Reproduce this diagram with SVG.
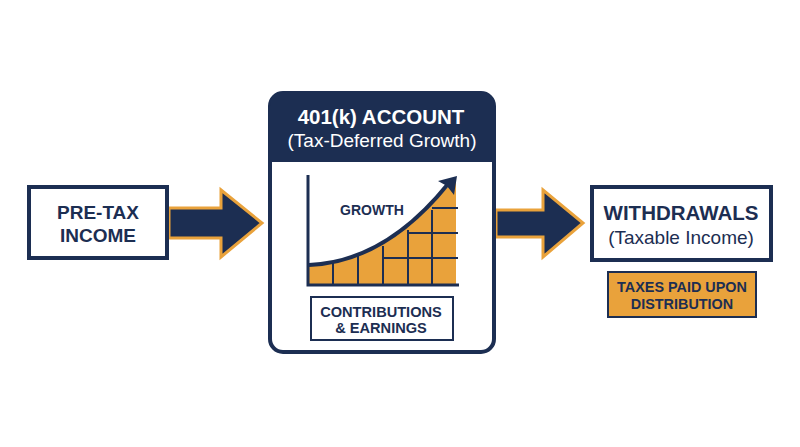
<svg xmlns="http://www.w3.org/2000/svg" width="800" height="447" viewBox="0 0 800 447">
<defs>
<style>
.navy{fill:#1c2e52}
.box{fill:#fff;stroke:#1c2e52;stroke-width:4}
.arrow{fill:#1c2e52;stroke:#e9a23b;stroke-width:3;stroke-linejoin:miter}
.b{font-family:"Liberation Sans",Arial,sans-serif;font-weight:bold;fill:#1c2e52;text-anchor:middle}
.r{font-family:"Liberation Sans",Arial,sans-serif;fill:#1c2e52;text-anchor:middle}
.grid{stroke:#1c2e52;stroke-width:2;fill:none}
</style>
</defs>
<rect width="800" height="447" fill="#fff"/>
<g id="connectors">
<path class="arrow" d="M169,208 H221 V190 L262,223 L221,257 V238 H169 Z"/>
<path class="arrow" d="M496,210 H543 V190 L583,223 L543,257 V237 H496 Z"/>
</g>
<g id="pretax">
<rect class="box" x="29" y="187" width="138" height="71"/>
<text class="b" x="98" y="219" font-size="19">PRE-TAX</text>
<text class="b" x="98" y="242" font-size="19">INCOME</text>
</g>
<g id="account">
<rect x="270" y="93" width="224" height="259" rx="13" fill="#fff" stroke="#1c2e52" stroke-width="4"/>
<path class="navy" d="M270,162 V106 Q270,93 283,93 H481 Q494,93 494,106 V162 Z"/>
<text x="381" y="124" font-size="20.5" font-family="Liberation Sans,Arial,sans-serif" font-weight="bold" fill="#fff" text-anchor="middle">401(k) ACCOUNT</text>
<text x="382" y="147" font-size="19" font-family="Liberation Sans,Arial,sans-serif" fill="#fff" text-anchor="middle">(Tax-Deferred Growth)</text>
<path d="M309,265 Q380,262 447,188 L456,180 V284 H309 Z" fill="#e9a23b"/>
<g class="grid">
<line x1="333" y1="262" x2="333" y2="284"/>
<line x1="358" y1="256" x2="358" y2="284"/>
<line x1="383" y1="246" x2="383" y2="284"/>
<line x1="408" y1="230" x2="408" y2="284"/>
<line x1="432" y1="210" x2="432" y2="284"/>
<line x1="383" y1="258" x2="458" y2="258"/>
<line x1="408" y1="233" x2="458" y2="233"/>
<line x1="432" y1="208" x2="458" y2="208"/>
</g>
<path d="M309,265 Q385,262 448,184" fill="none" stroke="#1c2e52" stroke-width="4"/>
<path class="navy" d="M457,176 L454,195 L447,186 L438,181 Z"/>
<path d="M308,175 V285 H459" fill="none" stroke="#1c2e52" stroke-width="3"/>
<text class="b" x="372" y="215" font-size="14">GROWTH</text>
<rect x="311" y="297" width="142" height="43" fill="#fff" stroke="#1c2e52" stroke-width="2"/>
<text class="b" x="381" y="317" font-size="14.6">CONTRIBUTIONS</text>
<text class="b" x="381" y="333" font-size="14.6">&amp; EARNINGS</text>
</g>
<g id="withdrawals">
<rect class="box" x="592" y="187" width="179" height="73"/>
<text class="b" x="681" y="220" font-size="20.5">WITHDRAWALS</text>
<text class="r" x="681" y="244" font-size="19">(Taxable Income)</text>
</g>
<g id="taxes">
<rect x="608" y="272" width="148" height="45" fill="#e9a23b" stroke="#1c2e52" stroke-width="2"/>
<text class="b" x="682" y="292" font-size="14.4">TAXES PAID UPON</text>
<text class="b" x="682" y="309" font-size="14.4">DISTRIBUTION</text>
</g>
</svg>
